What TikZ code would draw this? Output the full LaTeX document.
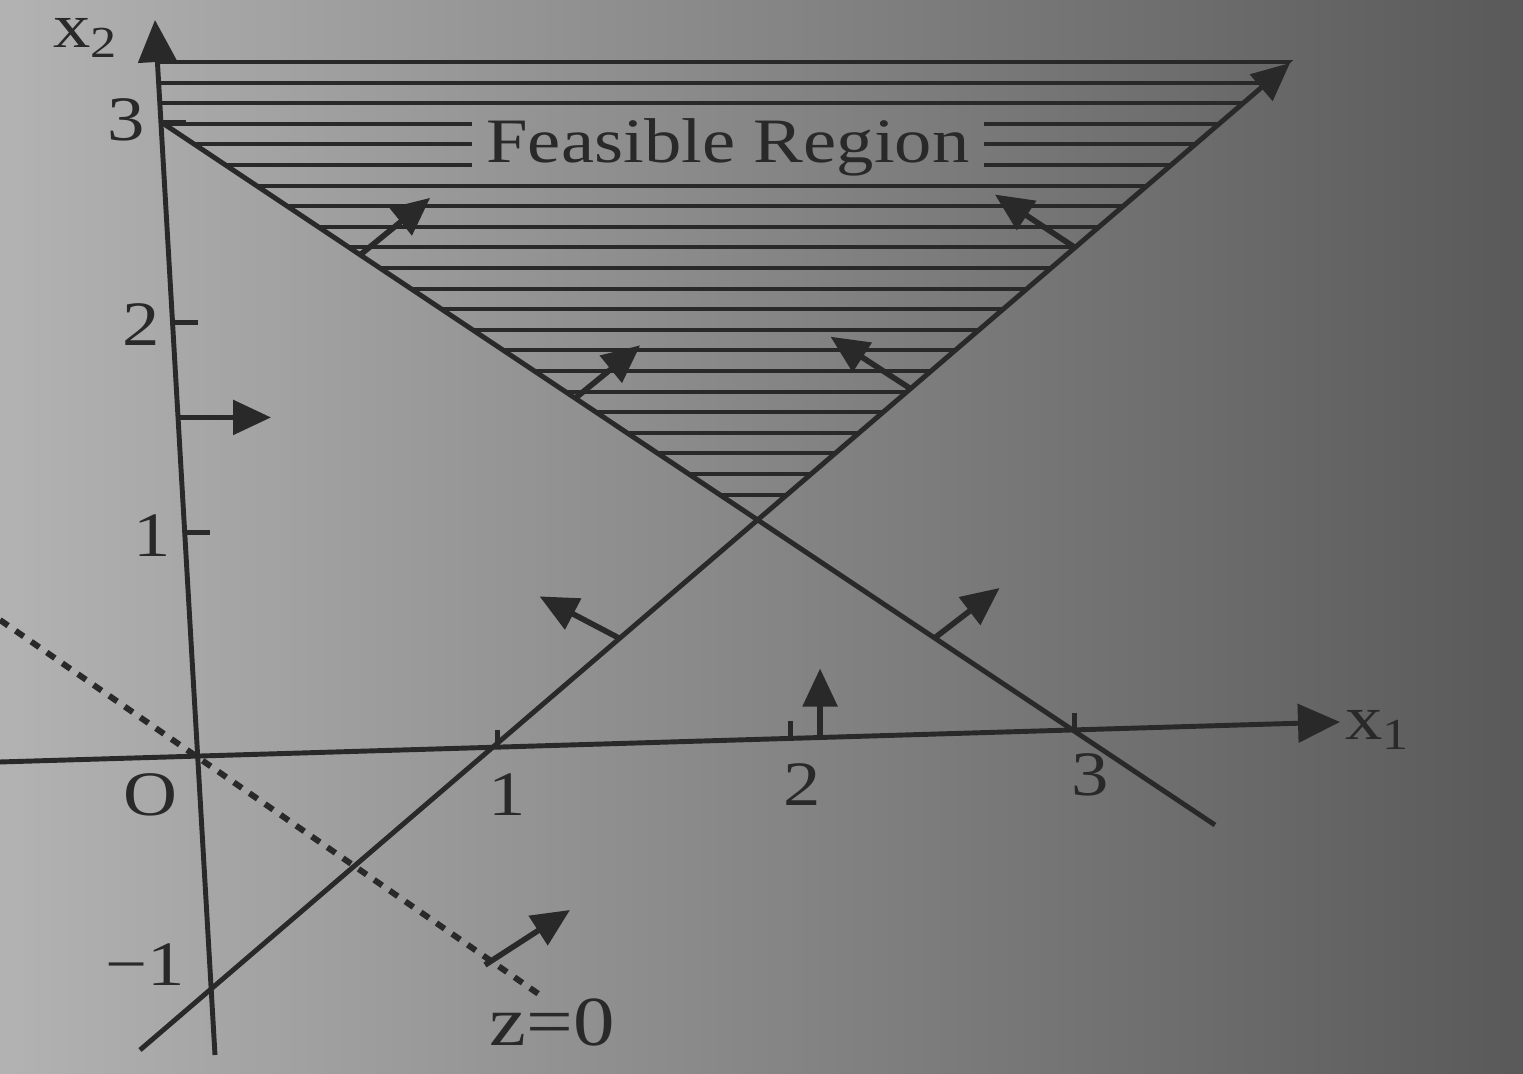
\documentclass[tikz,border=0pt]{standalone}
\usepackage{fontspec}
\setmainfont{Liberation Serif}[FakeStretch=1.18]
\usetikzlibrary{arrows.meta,calc}
\definecolor{ink}{gray}{0.16}
\definecolor{paperL}{gray}{0.70}
\definecolor{paperM}{gray}{0.62}
\definecolor{paperR}{gray}{0.35}

\begin{document}
\begin{tikzpicture}[
  line/.style={draw=ink, line width=1.4pt},
  hatch/.style={draw=ink, line width=1.15pt},
  axis/.style={line, -{Triangle[length=4.2mm,width=3.8mm]}},
  dir/.style={draw=ink, line width=1.6pt, -{Triangle[length=3.8mm,width=3.4mm]}},
  zline/.style={draw=ink, line width=1.7pt, dash pattern=on 2.8pt off 2.6pt},
  lbl/.style={text=ink, inner sep=0pt, font=\fontsize{18}{20}\selectfont}
]
  \useasboundingbox (0,0) rectangle (15.23,10.74);
  \shade[left color=paperL, middle color=paperM, right color=paperR] (0,0) rectangle (15.23,10.74);

  \coordinate (O) at (2.00,3.17);
  \coordinate (xl) at (0,3.12);
  \coordinate (xr) at (13.40,3.52);
  \coordinate (yb) at (2.15,0.19);
  \coordinate (yt) at (1.55,10.54);
  \coordinate (a1) at (1.61,9.52);
  \coordinate (a2) at (12.15,2.49);
  \coordinate (b1) at (1.40,0.24);
  \coordinate (b2) at (12.90,10.11);
  \coordinate (X) at (intersection of a1--a2 and b1--b2);

  \node[text=ink, inner xsep=0.14cm, inner ysep=0pt, anchor=base,
        font=\fontsize{18}{20}\selectfont] (feas) at (7.28,9.11) {Feasible Region};

  \begin{scope}
    \clip (1.55,10.6) -- (a1) -- (X) -- ($(b1)!1.05!(b2)$) -- cycle;
    \foreach \k in {0,1,2,6,7,...,21}
      \draw[hatch] (1,{10.12-0.206*\k}) -- (14,{10.12-0.206*\k});
    \foreach \k in {3,4,5} {
      \coordinate (h) at (0,{10.12-0.206*\k});
      \draw[hatch] (1,{10.12-0.206*\k}) -- (feas.west |- h) (feas.east |- h) -- (14,{10.12-0.206*\k});
    }
  \end{scope}

  \draw[line] (a1) -- (a2);
  \draw[line, -{Triangle[length=3.8mm,width=3.4mm]}] (b1) -- (b2);
  \draw[axis] (xl) -- (xr);
  \draw[axis] (yb) -- (yt);
  \draw[zline] (0,4.54) -- (5.40,0.79);

  \foreach \t in {0.371,0.59,0.802}
    \draw[line] ($(xl)!\t!(xr)$) -- ++(0,0.17);
  \foreach \t in {0.505,0.708,0.901}
    \draw[line] ($(yb)!\t!(yt)$) -- ++(0.25,0);

  \foreach \t/\dx/\dy in {0.189/0.70/0.57, 0.393/0.65/0.53, 0.734/0.65/0.50}
    \draw[dir] ($(a1)!\t!(a2)$) -- ++(\dx,\dy);
  \foreach \t/\dx/\dy in {0.813/-0.80/0.53, 0.670/-0.80/0.52, 0.417/-0.80/0.42}
    \draw[dir] ($(b1)!\t!(b2)$) -- ++(\dx,\dy);
  \draw[dir] ($(yb)!0.616!(yt)$) -- ++(0.93,0);
  \draw[dir] ($(xl)!0.612!(xr)$) -- ++(0,0.69);
  \draw[dir] (4.85,1.09) -- ++(0.85,0.55);

  \node[lbl] (lx2) at (0.86,10.36) {x\textsubscript{2}};
  \node[lbl] (lx1) at (13.78,3.44) {x\textsubscript{1}};
  \node[lbl] (lo) at (1.50,2.79) {O};
  \foreach \px/\py/\s [count=\i] in {5.07/2.79/1, 8.02/2.89/2, 10.90/2.99/3}
    \node[lbl] (tx\i) at (\px,\py) {\s};
  \foreach \px/\py/\s [count=\i] in {1.52/5.38/1, 1.41/7.49/2, 1.26/9.54/3, 1.45/1.09/−1}
    \node[lbl] (ty\i) at (\px,\py) {\s};
  \node[lbl, font=\fontsize{20}{22}\selectfont] (lz) at (5.52,0.52) {z=0};
\end{tikzpicture}
\end{document}
